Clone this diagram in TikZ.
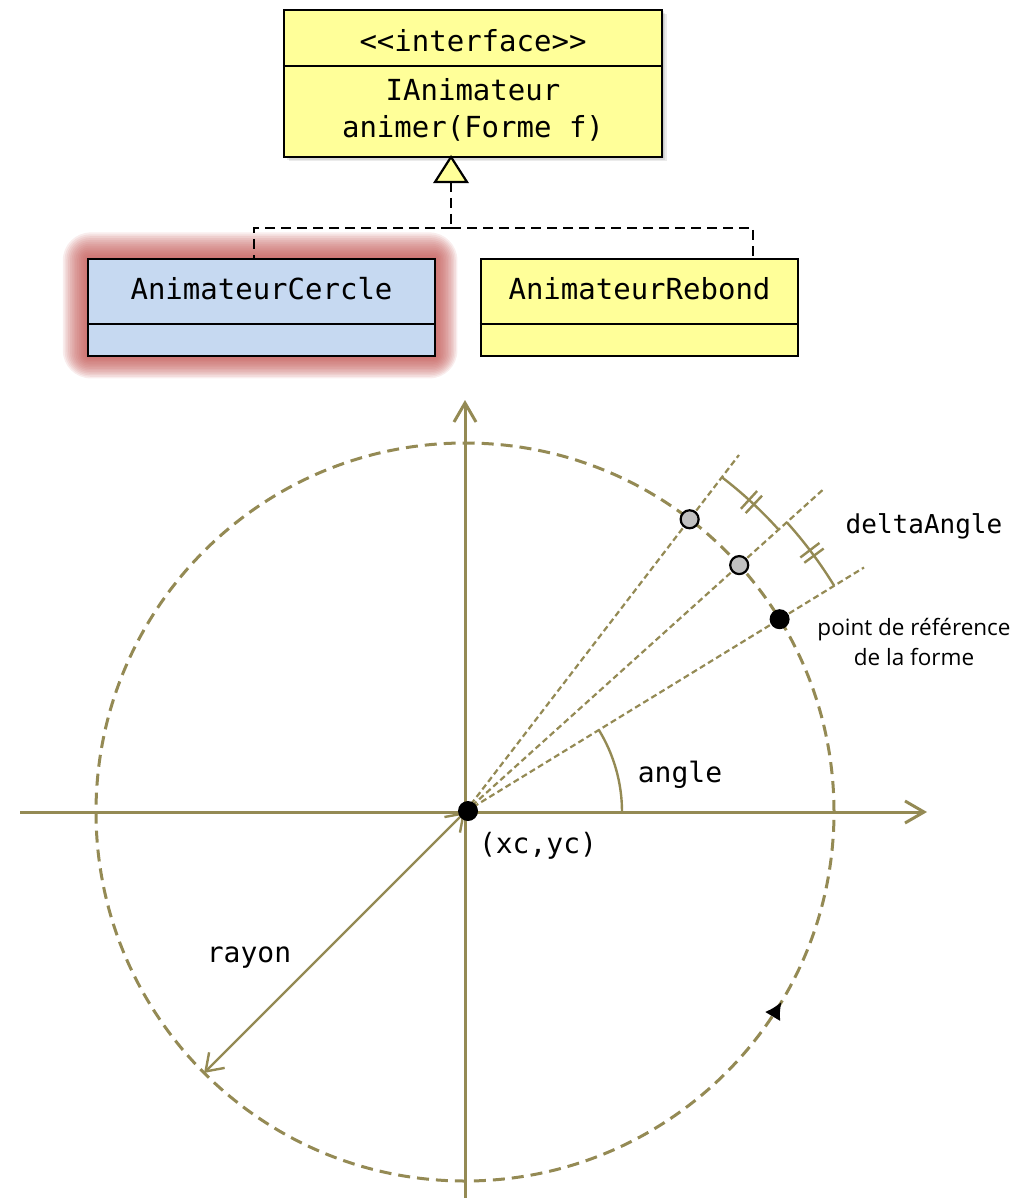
\documentclass[tikz,border=0pt]{standalone}
\usepackage{fontspec}
\setmonofont{DejaVu Sans Mono}
\newfontfamily\lightsans{Open Sans}
\usetikzlibrary{arrows.meta,decorations.markings,calc}
\definecolor{axiscol}{HTML}{948A54}
\definecolor{umlyellow}{HTML}{FFFF99}
\definecolor{umlblue}{HTML}{C6D9F1}
\definecolor{glowred}{HTML}{C0504D}
\definecolor{ptgray}{HTML}{C0C0C0}
\begin{document}
\begin{tikzpicture}[x=1pt,y=1pt,
  umlbox/.style={draw=black, line width=2.2pt, fill=umlyellow, rectangle, inner sep=0pt},
  monolbl/.style={font=\ttfamily\fontsize{29}{34}\selectfont, inner sep=0pt},
  geolbl/.style={font=\ttfamily\fontsize{28}{33}\selectfont, inner sep=0pt},
  reallink/.style={draw=black, line width=2.6pt, dash pattern=on 10pt off 6pt},
  axisline/.style={draw=axiscol, line width=3pt, -{Straight Barb[length=19pt,width=22pt,line width=3pt]}},
  radial/.style={draw=axiscol, line width=2.2pt, dash pattern=on 6pt off 3.5pt},
  orbit/.style={draw=axiscol, line width=3pt, dash pattern=on 12pt off 7pt},
  arcline/.style={draw=axiscol, line width=2.4pt},
  refpt/.style={circle, fill=black, minimum size=20pt, inner sep=0pt},
  graypt/.style={circle, fill=ptgray, draw=black, line width=2.2pt, minimum size=18pt, inner sep=0pt}
]
\useasboundingbox (0,0) rectangle (1035,-1198);

% ---------- UML part ----------
\foreach \d in {1.5,3,4.5}
  \fill[black, opacity=0.08] (284+\d,-10-\d) rectangle (662+\d,-157-\d);
\node[umlbox, minimum width=378pt, minimum height=147pt] (iface) at (473,-83.5) {};
\draw[line width=2.2pt] (iface.west |- 0,-66) -- (iface.east |- 0,-66);
\node[monolbl] (stereo) at (473,-41) {\textless\textless interface\textgreater\textgreater};
\node[monolbl] (iname) at (473,-90) {IAnimateur};
\node[monolbl] (imeth) at (473,-128) {animer(Forme f)};

% glow around AnimateurCercle
\foreach \g in {1,...,14}
  \fill[glowred, opacity=0.1, rounded corners=\g*2pt] (88-\g*1.8,-259+\g*1.9) rectangle (435+\g*1.6,-356-\g*1.6);
\node[umlbox, fill=umlblue, minimum width=347pt, minimum height=97pt] (AC) at (261.5,-307.5) {};
\draw[line width=2.2pt] (AC.west |- 0,-324) -- (AC.east |- 0,-324);
\node[monolbl] (ACname) at (261.5,-289) {AnimateurCercle};

\node[umlbox, minimum width=317pt, minimum height=97pt] (AR) at (639.5,-307.5) {};
\draw[line width=2.2pt] (AR.west |- 0,-324) -- (AR.east |- 0,-324);
\node[monolbl] (ARname) at (639.5,-289) {AnimateurRebond};

% realization
\coordinate (triB) at (451,-182);
\coordinate (triT) at (451,-157);
\coordinate (junc) at (451,-228);
\coordinate (acTop) at (254,-259);
\coordinate (arTop) at (753,-259);
\draw[reallink] (triB) -- (junc);
\draw[reallink] (junc) -| (acTop);
\draw[reallink] (junc) -| (arTop);
\draw[fill=umlyellow, line width=2.2pt, line join=miter] (triT) -- (467,-182) -- (435,-182) -- cycle;

% ---------- geometry part ----------
\coordinate (O) at (465,-812);
\coordinate (xL) at (20,-812);
\coordinate (xR) at (927,-812);
\coordinate (yB) at (465,-1198);
\coordinate (yT) at (465,-400);
\draw[axisline] (xL) -- (xR);
\draw[axisline] (yB) -- (yT);

\draw[orbit, postaction={decorate}, decoration={markings,
  mark=at position 0.914 with {\arrow[black]{Latex[length=17pt,width=18pt]}}}]
  (O) circle (369);

\path (O) ++(31.5:468) coordinate (r1);
\path (O) ++(42:483) coordinate (r2);
\path (O) ++(52.5:450) coordinate (r3);
\draw[radial] (O) -- (r1);
\draw[radial] (O) -- (r2);
\draw[radial] (O) -- (r3);

% angle arc
\draw[arcline] (O) ++(0:157) arc[start angle=0, end angle=31.5, radius=157];
% delta arcs
\draw[arcline] (O) ++(52.5:422) arc[start angle=52.5, end angle=42, radius=422];
\draw[arcline] (O) ++(42:433) arc[start angle=42, end angle=31.5, radius=433];
% tick marks
\foreach \a in {46.8,47.7}
  \draw[arcline] (O) ++(\a:410) -- ++(\a:24);
\foreach \a in {36.3,37.2}
  \draw[arcline] (O) ++(\a:421) -- ++(\a:24);

% rayon
\path (O) ++(225:369) coordinate (rEnd);
\draw[arcline, {Straight Barb[length=16pt,width=22pt,line width=2.4pt]}-{Straight Barb[length=16pt,width=22pt,line width=2.4pt]}]
  (O) -- (rEnd);

% points
\path (O) ++(31.5:369) node[refpt] (P0) {};
\path (O) ++(42:369) node[graypt] (P1) {};
\path (O) ++(52.5:369) node[graypt] (P2) {};
\node[refpt] (Cdot) at (468,-811) {};

% labels
\node[geolbl, font=\ttfamily\fontsize{26}{30}\selectfont] (dA) at (924,-526) {deltaAngle};
\node[font=\lightsans\fontsize{22.5}{30}\selectfont, align=center, inner sep=0pt] (pref) at (914,-642) {point de référence\\de la forme};
\node[geolbl] (ang) at (680,-775) {angle};
\node[geolbl] (xy) at (538,-846) {(xc,yc)};
\node[geolbl] (ray) at (249,-958) {rayon};
\end{tikzpicture}
\end{document}
